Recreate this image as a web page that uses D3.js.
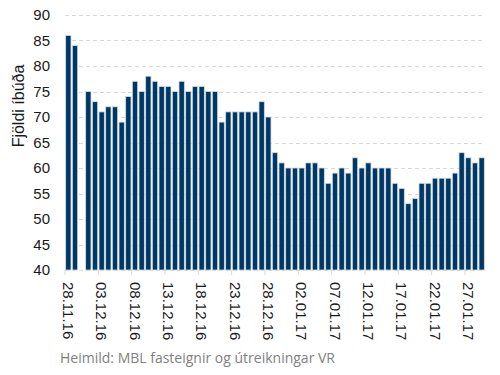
<!DOCTYPE html>
<html>
<head>
<meta charset="utf-8">
<script src="https://cdn.jsdelivr.net/npm/d3@7"></script>
<style>
  body { margin: 0; background: #fff; }
  svg { display: block; }
</style>
</head>
<body>
<div id="chart"></div>
<script>
// Daily categories (30.11.16 has no value)
const dates = [
  "28.11.16","29.11.16","30.11.16","01.12.16","02.12.16","03.12.16","04.12.16","05.12.16","06.12.16","07.12.16",
  "08.12.16","09.12.16","10.12.16","11.12.16","12.12.16","13.12.16","14.12.16","15.12.16","16.12.16","17.12.16",
  "18.12.16","19.12.16","20.12.16","21.12.16","22.12.16","23.12.16","24.12.16","25.12.16","26.12.16","27.12.16",
  "28.12.16","29.12.16","30.12.16","31.12.16","01.01.17","02.01.17","03.01.17","04.01.17","05.01.17","06.01.17",
  "07.01.17","08.01.17","09.01.17","10.01.17","11.01.17","12.01.17","13.01.17","14.01.17","15.01.17","16.01.17",
  "17.01.17","18.01.17","19.01.17","20.01.17","21.01.17","22.01.17","23.01.17","24.01.17","25.01.17","26.01.17",
  "27.01.17","28.01.17","29.01.17"
];

const values = [
  86, 84, null, 75, 73, 71, 72, 72, 69, 74,
  77, 75, 78, 77, 76, 76, 75, 77, 75, 76,
  76, 75, 75, 69, 71, 71, 71, 71, 71, 73,
  70, 63, 61, 60, 60, 60, 61, 61, 60, 57,
  59, 60, 59, 62, 60, 61, 60, 60, 60, 57,
  56, 53, 54, 57, 57, 58, 58, 58, 59, 63,
  62, 61, 62
];

const xTickLabels = ["28.11.16","03.12.16","08.12.16","13.12.16","18.12.16","23.12.16",
                     "28.12.16","02.01.17","07.01.17","12.01.17","17.01.17","22.01.17","27.01.17"];
const yTicks = [40, 45, 50, 55, 60, 65, 70, 75, 80, 85, 90];

const yTitle = "Fjöldi íbúða";
const source = "Heimild: MBL fasteignir og útreikningar VR";

const W = 500, H = 375;
const margin = { top: 15, right: 15, bottom: 105, left: 65 };
const width = W - margin.left - margin.right,
      height = H - margin.top - margin.bottom;

const svg = d3.select("#chart").append("svg")
    .attr("width", W)
    .attr("height", H);

const g = svg.append("g")
    .attr("transform", `translate(${margin.left},${margin.top})`);

const x = d3.scaleBand()
    .domain(dates)
    .range([0, width])
    .paddingInner(0.2)
    .paddingOuter(0.1);

const y = d3.scaleLinear()
    .domain([40, 90])
    .range([height, 0]);

// dashed gridlines
g.append("g")
    .selectAll("line")
    .data(yTicks)
    .join("line")
    .attr("x1", 0)
    .attr("x2", width)
    .attr("y1", d => Math.round(y(d)) + 0.5)
    .attr("y2", d => Math.round(y(d)) + 0.5)
    .attr("stroke", "#d9d9d9")
    .attr("stroke-width", 1)
    .attr("stroke-dasharray", "4,3");

// y axis labels
const yAxis = g.append("g")
    .call(d3.axisLeft(y).tickValues(yTicks).tickSize(0).tickPadding(15));
yAxis.select(".domain").remove();
yAxis.selectAll("text")
    .attr("font-family", "Liberation Sans, Arial, sans-serif")
    .attr("font-size", "15px")
    .attr("fill", "#1a1a1a");

// bars
const data = dates.map((d, i) => ({ date: d, value: values[i] })).filter(d => d.value !== null);

g.append("g")
    .selectAll("rect")
    .data(data)
    .join("rect")
    .attr("x", d => x(d.date))
    .attr("width", x.bandwidth())
    .attr("y", d => y(d.value))
    .attr("height", d => y(40) - y(d.value))
    .attr("fill", "#003865")
    .attr("stroke", "#d3dce6")
    .attr("stroke-width", 0.8);

// x axis: ticks on category boundaries, labels on centres
const step = x.step();
const xAxis = g.append("g")
    .attr("transform", `translate(0,${height})`)
    .call(d3.axisBottom(x).tickValues(xTickLabels).tickSize(5).tickPadding(0));
xAxis.select(".domain").remove();
xAxis.selectAll(".tick line")
    .attr("x1", -step / 2)
    .attr("x2", -step / 2)
    .attr("stroke", "#d9d9d9");
xAxis.selectAll(".tick text")
    .attr("font-family", "Liberation Sans, Arial, sans-serif")
    .attr("font-size", "15px")
    .attr("fill", "#1a1a1a")
    .attr("text-anchor", "start")
    .attr("dominant-baseline", "central")
    .attr("dy", null)
    .attr("y", 0)
    .attr("transform", "translate(0,12) rotate(90)");

// y axis title
svg.append("text")
    .attr("transform", `translate(18,106) rotate(-90)`)
    .attr("text-anchor", "middle")
    .attr("dominant-baseline", "central")
    .attr("font-family", "Liberation Sans, Arial, sans-serif")
    .attr("font-size", "16px")
    .attr("fill", "#1a1a1a")
    .text(yTitle);

// source note
svg.append("text")
    .attr("x", 60)
    .attr("y", 363)
    .attr("font-family", "Open Sans, sans-serif")
    .attr("font-size", "14px")
    .attr("fill", "#7f7f7f")
    .text(source);
</script>
</body>
</html>
